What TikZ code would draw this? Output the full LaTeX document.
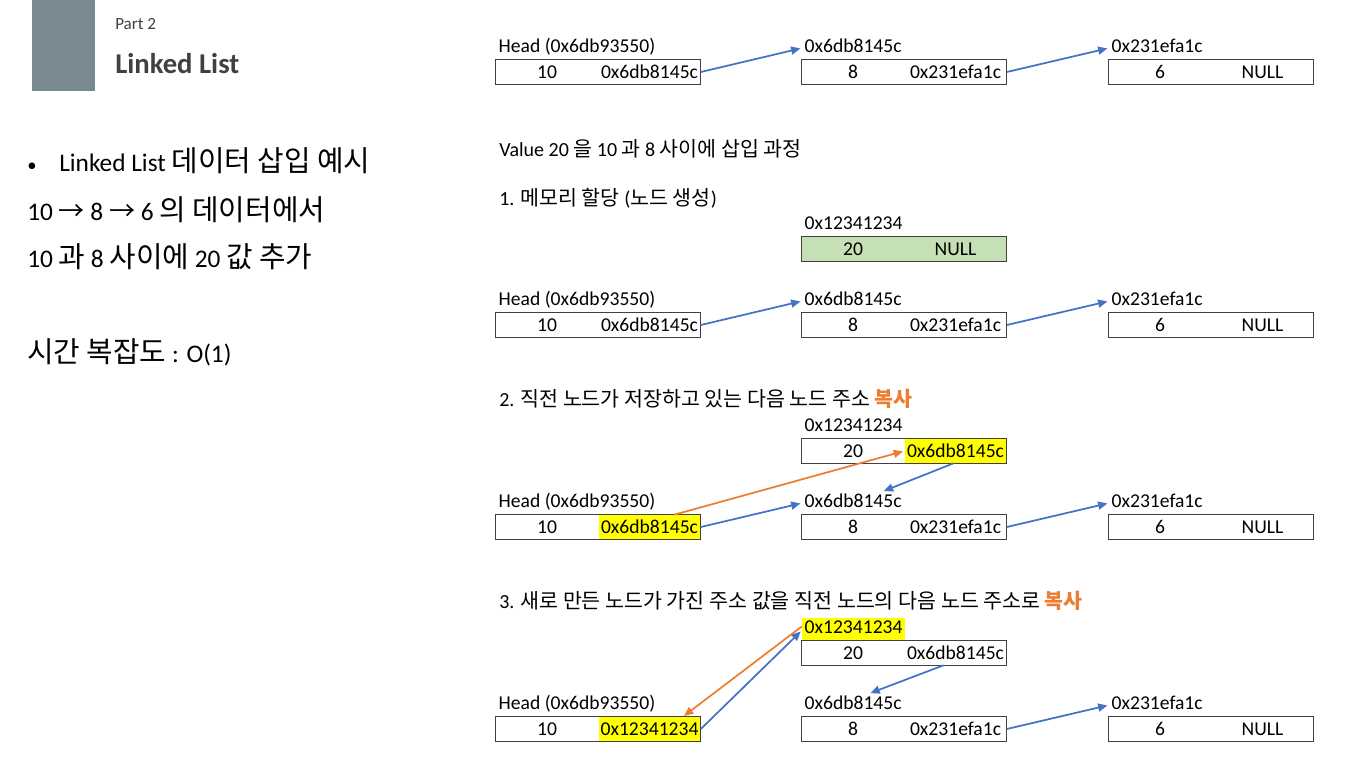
\documentclass[tikz,border=0pt]{standalone}
\usepackage{fontspec}
\setmainfont{Carlito}
\newfontfamily\krfont{Noto Sans CJK KR}[Scale=1.03]
\newcommand\kr[1]{{\krfont #1}}
\newcommand\krL[1]{{\krfont\fontsize{21}{24}\selectfont #1}}
\usetikzlibrary{positioning,arrows.meta}

\definecolor{barGrey}{HTML}{788A8F}
\definecolor{titleGrey}{HTML}{404040}
\definecolor{linkBlue}{HTML}{4472C4}
\definecolor{copyOrange}{HTML}{ED7D31}
\definecolor{newGreen}{HTML}{C5E0B4}
\definecolor{markYellow}{HTML}{FFFF00}

\tikzset{
  half/.style={minimum width=76.5pt, minimum height=18pt, inner sep=0pt,
    font=\fontsize{14.7}{17}\selectfont},
  addr/.style={anchor=south west, inner xsep=2pt, inner ysep=1pt,
    text height=10.8pt, text depth=4.2pt, font=\fontsize{14.7}{17}\selectfont},
  stitle/.style={anchor=base west, inner sep=0pt, font=\fontsize{15}{18}\selectfont},
  bigtext/.style={anchor=base west, inner sep=0pt, font=\fontsize{19}{22}\selectfont},
  box/.style={draw=black!75, line width=0.6pt},
  link/.style={draw=linkBlue, line width=1.3pt, -{Triangle[length=7pt,width=6pt]},
    shorten >=1pt},
  copy/.style={link, draw=copyOrange}
}

\begin{document}
\begin{tikzpicture}[x=0.75pt, y=-0.75pt]
\useasboundingbox (0,0) rectangle (1359,757);

% header
\fill[barGrey] (32,0) rectangle (95,91);
\node[anchor=base west, inner sep=0pt, text=titleGrey,
  font=\fontsize{12.8}{15}\selectfont] (part) at (115,29) {Part 2};
\node[anchor=base west, inner sep=0pt, text=titleGrey,
  font=\fontsize{21.5}{25}\selectfont\bfseries] (title) at (115,73) {Linked List};

% left column
\node[bigtext] (l1) at (27,171) {\makebox[24pt][l]{\fontsize{14}{16}\selectfont•}Linked List
  \krL{데이터 삽입 예시}};
\node[bigtext] (l2) at (27,220) {10 \kr{→} 8 \kr{→} 6 \krL{의 데이터에서}};
\node[bigtext] (l3) at (27,267) {10 \krL{과} 8 \krL{사이에} 20 \krL{값 추가}};
\node[bigtext] (l4) at (27,362) {\krL{시간 복잡도} : O(1)};

% step titles
\node[stitle] (s0) at (499,156) {Value 20 \kr{을} 10 \kr{과} 8 \kr{사이에 삽입 과정}};
\node[stitle] (s1) at (499,205) {1. \kr{메모리 할당} (\kr{노드 생성})};
\node[stitle] (s2) at (499,406) {2. \kr{직전 노드가 저장하고 있는 다음 노드 주소}
  \kr{\bfseries\color{copyOrange}복사}};
\node[stitle] (s3) at (499,608) {3. \kr{새로 만든 노드가 가진 주소 값을 직전 노드의 다음 노드 주소로}
  \kr{\bfseries\color{copyOrange}복사}};

% the list 10 -> 8 -> 6, once per step
\foreach \rw/\yy/\hp/\hf in {0/72/0x6db8145c/white, 1/325/0x6db8145c/white,
    2/527/0x6db8145c/markYellow, 3/729/0x12341234/markYellow} {
  \node[half] (h\rw v) at (547,\yy) {10};
  \node[half, right=0pt of h\rw v, fill=\hf] (h\rw p) {\hp};
  \draw[box] (h\rw v.north west) rectangle (h\rw p.south east);
  \node[addr] (h\rw l) at (h\rw v.north west) {Head (0x6db93550)};
  \node[half] (a\rw v) at (853,\yy) {8};
  \node[half, right=0pt of a\rw v] (a\rw p) {0x231efa1c};
  \draw[box] (a\rw v.north west) rectangle (a\rw p.south east);
  \node[addr] (a\rw l) at (a\rw v.north west) {0x6db8145c};
  \node[half] (b\rw v) at (1160,\yy) {6};
  \node[half, right=0pt of b\rw v] (b\rw p) {NULL};
  \draw[box] (b\rw v.north west) rectangle (b\rw p.south east);
  \node[addr] (b\rw l) at (b\rw v.north west) {0x231efa1c};
  \draw[link] (a\rw p.east) -- (b\rw l.west);
}
\draw[link] (h0p.east) -- (a0l.west);
\draw[link] (h1p.east) -- (a1l.west);
\draw[link] (h2p.east) -- (a2l.west);

% 1. new node
\node[half, fill=newGreen, draw=newGreen] (n1v) at (853,249) {20};
\node[half, right=0pt of n1v, fill=newGreen, draw=newGreen] (n1p) {NULL};
\draw[box] (n1v.north west) rectangle (n1p.south east);
\node[addr] (n1l) at (n1v.north west) {0x12341234};

% 2. copy next address
\node[half] (n2v) at (853,451) {20};
\node[half, right=0pt of n2v, fill=markYellow] (n2p) {0x6db8145c};
\draw[box] (n2v.north west) rectangle (n2p.south east);
\node[addr] (n2l) at (n2v.north west) {0x12341234};
\draw[copy] ([xshift=-20pt]h2p.north east) -- (n2p.west);
\draw[link] ([xshift=-1.5pt]n2p.south) -- ([xshift=22pt]a2l.north);

% 3. relink head
\node[half] (n3v) at (853,653) {20};
\node[half, right=0pt of n3v] (n3p) {0x6db8145c};
\draw[box] (n3v.north west) rectangle (n3p.south east);
\node[addr, fill=markYellow] (n3l) at (n3v.north west) {0x12341234};
\draw[copy] ([yshift=2pt]n3l.west) -- ([xshift=25pt]h3p.north);
\draw[link] (h3p.east) -- ([yshift=-1pt]n3l.west);
\draw[link] ([xshift=-9pt]n3p.south) -- ([xshift=12pt]a3l.north);
\end{tikzpicture}
\end{document}
